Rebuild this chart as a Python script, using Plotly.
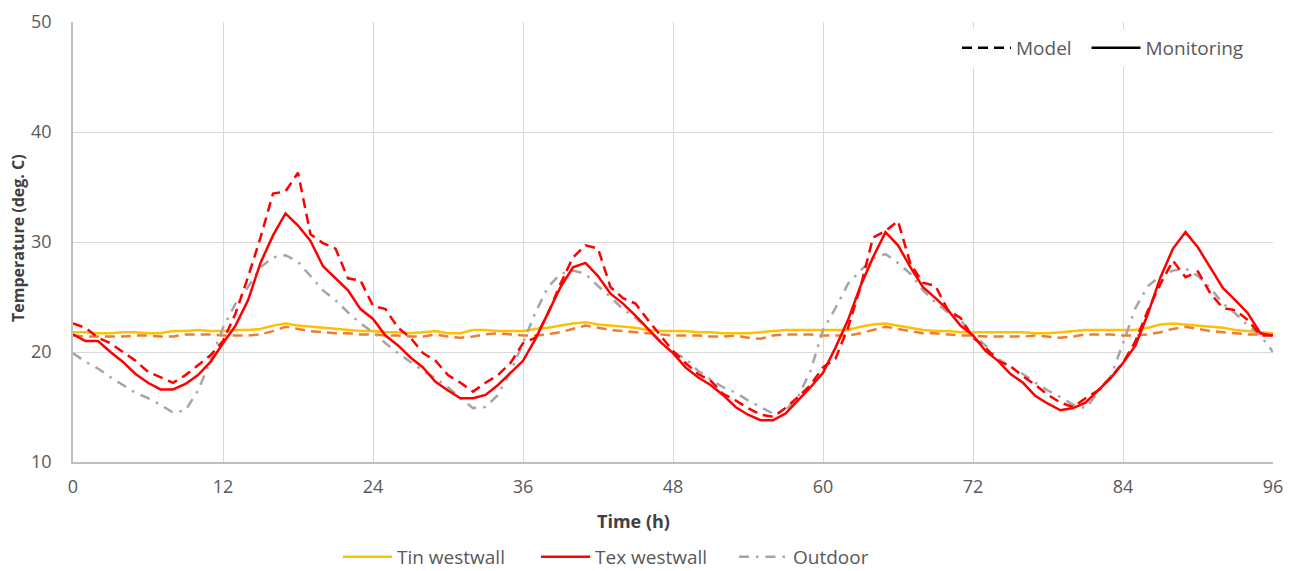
import plotly.graph_objects as go

hours = list(range(0, 97))

tin_monitoring = [
    21.8, 21.8, 21.7, 21.7, 21.8, 21.8, 21.7, 21.7, 21.9, 21.9, 22.0, 21.9,
    21.9, 22.0, 22.0, 22.1, 22.4, 22.6, 22.4, 22.3, 22.2, 22.1, 22.0, 21.9,
    21.9, 21.8, 21.8, 21.7, 21.8, 21.9, 21.7, 21.7, 22.0, 22.0, 21.9, 21.9,
    21.9, 22.1, 22.2, 22.4, 22.6, 22.7, 22.5, 22.4, 22.3, 22.2, 22.0, 21.9,
    21.9, 21.9, 21.8, 21.8, 21.7, 21.7, 21.7, 21.8, 21.9, 22.0, 22.0, 22.0,
    22.0, 22.0, 22.0, 22.3, 22.5, 22.6, 22.4, 22.2, 22.0, 21.9, 21.9, 21.8,
    21.8, 21.8, 21.8, 21.8, 21.8, 21.7, 21.7, 21.8, 21.9, 22.0, 22.0, 22.0,
    22.0, 22.0, 22.2, 22.5, 22.6, 22.5, 22.4, 22.3, 22.2, 22.0, 21.9, 21.8,
    21.7,
]

tin_model = [
    21.5, 21.4, 21.4, 21.4, 21.4, 21.5, 21.5, 21.4, 21.4, 21.6, 21.6, 21.6,
    21.5, 21.5, 21.5, 21.6, 21.9, 22.3, 22.1, 21.9, 21.8, 21.7, 21.7, 21.6,
    21.6, 21.5, 21.5, 21.4, 21.4, 21.6, 21.4, 21.3, 21.4, 21.6, 21.7, 21.6,
    21.5, 21.5, 21.6, 21.8, 22.1, 22.4, 22.2, 22.0, 21.9, 21.8, 21.7, 21.6,
    21.5, 21.5, 21.5, 21.4, 21.4, 21.5, 21.3, 21.2, 21.5, 21.6, 21.6, 21.6,
    21.5, 21.5, 21.5, 21.7, 22.0, 22.3, 22.1, 21.9, 21.7, 21.7, 21.6, 21.5,
    21.5, 21.4, 21.4, 21.4, 21.4, 21.5, 21.4, 21.3, 21.4, 21.6, 21.6, 21.6,
    21.5, 21.5, 21.6, 21.8, 22.1, 22.3, 22.1, 21.9, 21.8, 21.7, 21.6, 21.6,
    21.6,
]

tex_monitoring = [
    21.6, 21.0, 21.0, 20.0, 19.1, 18.0, 17.2, 16.6, 16.6, 17.1, 17.9, 19.1,
    20.8, 22.4, 24.7, 28.1, 30.6, 32.6, 31.5, 30.1, 27.8, 26.7, 25.6, 23.9,
    23.0, 21.5, 20.6, 19.5, 18.6, 17.3, 16.5, 15.8, 15.8, 16.1, 17.0, 18.1,
    19.2, 21.2, 23.5, 25.9, 27.7, 28.1, 26.9, 25.3, 24.4, 23.3, 22.1, 20.9,
    19.9, 18.6, 17.7, 17.0, 16.1, 15.0, 14.3, 13.8, 13.8, 14.4, 15.6, 16.8,
    18.1, 20.4, 22.9, 26.0, 28.6, 30.9, 29.7, 27.7, 25.9, 24.9, 23.8, 22.4,
    21.5, 20.1, 19.2, 18.0, 17.2, 16.0, 15.3, 14.7, 14.9, 15.4, 16.5, 17.6,
    19.0, 20.6, 23.5, 26.8, 29.4, 30.9, 29.5, 27.7, 25.8, 24.7, 23.5, 21.7,
    21.5,
]

tex_model = [
    22.6, 22.2, 21.3, 20.8, 20.0, 19.2, 18.2, 17.7, 17.2, 17.9, 18.8, 19.7,
    21.0, 23.5, 26.8, 30.4, 34.4, 34.6, 36.3, 30.7, 29.9, 29.4, 26.7, 26.5,
    24.2, 23.9, 22.2, 21.3, 19.9, 19.2, 17.9, 17.2, 16.4, 17.2, 17.9, 19.0,
    20.8, 21.3, 23.5, 26.2, 28.6, 29.7, 29.4, 25.9, 24.9, 24.4, 22.9, 21.5,
    20.1, 19.0, 18.0, 17.4, 16.2, 15.6, 14.9, 14.3, 14.1, 14.9, 15.9, 17.0,
    18.6, 19.4, 22.2, 25.9, 30.4, 31.0, 31.9, 28.0, 26.3, 26.0, 23.8, 23.1,
    21.3, 20.4, 19.2, 18.7, 17.8, 17.0, 16.1, 15.4, 15.0, 15.8, 16.5, 17.7,
    19.0, 21.0, 23.8, 26.2, 28.3, 26.8, 27.3, 25.3, 24.0, 23.8, 22.9, 21.5,
    21.5,
]

outdoor = [
    19.9, 19.1, 18.5, 17.7, 17.0, 16.3, 15.8, 15.2, 14.5, 14.7, 16.5, 19.2,
    22.2, 24.4, 25.9, 27.7, 28.6, 28.8, 28.2, 26.9, 25.6, 24.7, 23.6, 22.6,
    21.8, 20.8, 19.9, 19.1, 18.3, 17.6, 16.8, 15.8, 14.9, 15.0, 16.1, 18.2,
    20.8, 23.6, 25.9, 27.1, 27.4, 27.1, 26.0, 25.0, 23.9, 23.1, 22.1, 21.0,
    20.0, 19.4, 18.3, 17.5, 16.8, 16.3, 15.6, 15.0, 14.4, 14.7, 15.9, 18.3,
    22.0, 24.0, 26.2, 27.4, 28.5, 28.9, 28.1, 27.1, 25.6, 24.5, 23.6, 22.9,
    21.5, 20.6, 19.4, 18.6, 18.0, 17.2, 16.5, 15.9, 15.2, 14.9, 16.3, 17.7,
    20.8, 24.0, 26.0, 26.9, 27.4, 27.6, 26.9, 25.8, 24.4, 23.5, 22.4, 21.5,
    20.0,
]

x_ticks = [0, 12, 24, 36, 48, 60, 72, 84, 96]
y_ticks = [10, 20, 30, 40, 50]

FONT = "Open Sans"
GRAY_TXT = "#595959"
TITLE_TXT = "#404040"
DASH = "10px,6px"
DASHDOT = "10px,7px,2.5px,7px"
NBSP = "\u00a0"

# plot area in pixels
L, R, T, B = 73, 35, 22, 109
W, H = 1308, 571
PW, PH = W - L - R, H - T - B


def px_x(p):
    return (p - L) / PW


def px_y(p):
    return (H - B - p) / PH


fig = go.Figure()

fig.add_trace(go.Scatter(x=hours, y=tin_model, mode="lines", showlegend=False,
                         line=dict(color="#ED7D31", width=2.5, dash=DASH)))
fig.add_trace(go.Scatter(x=hours, y=tin_monitoring, mode="lines", name="Tin westwall",
                         legend="legend2", line=dict(color="#FFC000", width=2.5)))
fig.add_trace(go.Scatter(x=hours, y=outdoor, mode="lines", showlegend=False,
                         line=dict(color="#A5A5A5", width=2.5, dash=DASHDOT)))
fig.add_trace(go.Scatter(x=hours, y=tex_model, mode="lines", showlegend=False,
                         line=dict(color="#FF0000", width=2.5, dash=DASH)))
fig.add_trace(go.Scatter(x=hours, y=tex_monitoring, mode="lines", name="Tex westwall",
                         legend="legend2", line=dict(color="#FF0000", width=2.5)))
# legend-only entries
fig.add_trace(go.Scatter(x=[None], y=[None], mode="lines", name="Outdoor",
                         legend="legend2", line=dict(color="#A5A5A5", width=2.5, dash=DASHDOT)))
fig.add_trace(go.Scatter(x=[None], y=[None], mode="lines", name="Model" + NBSP * 2,
                         legend="legend", line=dict(color="#000000", width=2.5, dash=DASH)))
fig.add_trace(go.Scatter(x=[None], y=[None], mode="lines", name="Monitoring",
                         legend="legend", line=dict(color="#000000", width=2.5)))

fig.update_layout(
    width=W, height=H,
    margin=dict(l=L, r=R, t=T, b=B, autoexpand=False),
    paper_bgcolor="white", plot_bgcolor="white",
    font=dict(family=FONT, size=18, color=GRAY_TXT),
    xaxis=dict(range=[0, 96], tickvals=x_ticks, showgrid=True, gridcolor="#D9D9D9",
               gridwidth=1, zeroline=False, showline=True, linecolor="#BFBFBF",
               linewidth=1.5, ticks="", ticklabelstandoff=8, automargin=False,
               tickfont=dict(family=FONT, size=18, color=GRAY_TXT)),
    yaxis=dict(range=[10, 50], tickvals=y_ticks, showgrid=True, gridcolor="#D9D9D9",
               gridwidth=1, zeroline=False, showline=True, linecolor="#BFBFBF",
               linewidth=1.5, ticks="", ticklabelstandoff=16, automargin=False,
               tickfont=dict(family=FONT, size=18, color=GRAY_TXT)),
    legend=dict(orientation="h", x=px_x(1249), y=px_y(48), xanchor="right", yanchor="middle",
                bgcolor="white", font=dict(family=FONT, size=19, color=GRAY_TXT),
                itemwidth=49),
    legend2=dict(orientation="h", x=px_x(338), y=px_y(557), xanchor="left", yanchor="middle",
                 bgcolor="rgba(0,0,0,0)", font=dict(family=FONT, size=19, color=GRAY_TXT),
                 itemwidth=49, entrywidth=134),
    annotations=[
        dict(text="<b>Time (h)</b>", x=px_x(633), y=px_y(521), xref="paper", yref="paper",
             xanchor="center", yanchor="middle", showarrow=False,
             font=dict(family=FONT, size=18, color=TITLE_TXT)),
        dict(text="<b>Temperature (deg. C)</b>", x=px_x(18), y=px_y(238), xref="paper",
             yref="paper", xanchor="center", yanchor="middle", showarrow=False,
             textangle=-90, font=dict(family=FONT, size=16, color=TITLE_TXT)),
    ],
)

fig.write_html("out.html")
